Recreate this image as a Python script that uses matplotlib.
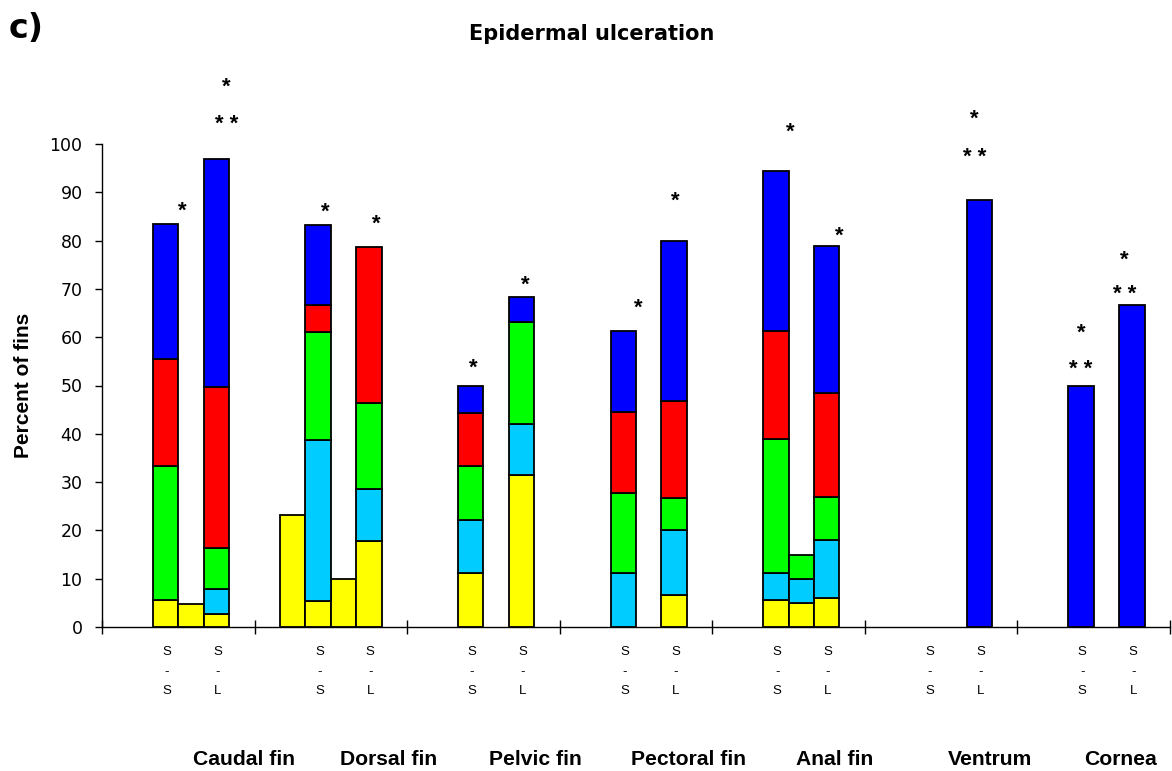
import numpy as np
import matplotlib
matplotlib.use("Agg")
import matplotlib.pyplot as plt

plt.rcParams['font.family'] = ['Liberation Sans', 'DejaVu Sans']

# ---- data ----
groups = ["Caudal fin", "Dorsal fin", "Pelvic fin", "Pectoral fin", "Anal fin", "Ventrum", "Cornea"]
# each bar: group index and slot within group (6 slots per group)
bar_group = [0, 0, 0, 1, 1, 1, 1, 2, 2, 3, 3, 4, 4, 4, 5, 6, 6]
bar_slot  = [2, 3, 4, 1, 2, 3, 4, 2, 4, 2, 4, 2, 3, 4, 4, 2, 4]
# stacked series (percent of fins)
yellow = [5.56, 4.8, 2.6, 23.2, 5.4, 10.0, 17.8, 11.1, 31.5, 0.0, 6.7, 5.6, 4.9, 6.0, 0, 0, 0]
cyan   = [0.0, 0, 5.3, 0, 33.4, 0, 10.7, 11.1, 10.5, 11.1, 13.3, 5.6, 5.0, 12.0, 0, 0, 0]
green  = [27.78, 0, 8.4, 0, 22.2, 0, 17.8, 11.1, 21.1, 16.7, 6.7, 27.8, 5.0, 9.0, 0, 0, 0]
red    = [22.22, 0, 33.4, 0, 5.6, 0, 32.3, 11.1, 0.0, 16.7, 20.0, 22.2, 0, 21.5, 0, 0, 0]
blue   = [27.78, 0, 47.2, 0, 16.7, 0, 0.0, 5.6, 5.3, 16.7, 33.3, 33.3, 0, 30.3, 88.4, 50.0, 66.7]
series_colors = ["#FFFF00", "#00CCFF", "#00FF00", "#FF0000", "#0000FF"]

# significance markers: (group, slot, text, y)
sig_group = [0, 0, 0, 1, 1, 2, 2, 3, 3, 4, 4, 5, 5, 6, 6, 6, 6]
sig_slot  = [2, 4, 4, 2, 4, 2, 4, 2, 4, 2, 4, 4, 4, 2, 2, 4, 4]
sig_dx    = [0.65, 0.4, 0.4, 0.3, 0.3, 0.1, 0.15, 0.6, 0.05, 0.55, 0.5, -0.2, -0.2, 0.0, 0.0, -0.3, -0.3]
sig_text  = ["*", "*", "* *", "*", "*", "*", "*", "*", "*", "*", "*", "*", "* *", "*", "* *", "*", "* *"]
sig_y     = [86.1, 111.7, 104.0, 85.8, 83.4, 53.6, 70.7, 66.0, 88.1, 102.5, 80.9, 105.1, 97.3, 60.8, 53.4, 76.0, 68.8]

# group label offsets (slot units from group start)
group_label_dx = [5.58, 5.25, 5.03, 5.08, 4.82, 4.92, 4.07]

SLOTS = 6

fig = plt.figure(figsize=(11.72, 7.71), dpi=100)
ax = fig.add_axes([102/1172, (771-627)/771, (1170-102)/1172, (627-144)/771])

xpos = np.array([g*SLOTS + s + 0.5 for g, s in zip(bar_group, bar_slot)])
bottom = np.zeros(len(xpos))
for vals, col in zip([yellow, cyan, green, red, blue], series_colors):
    vals = np.array(vals, dtype=float)
    m = vals > 0
    ax.bar(xpos[m], vals[m], width=1.0, bottom=bottom[m], color=col,
           edgecolor='black', linewidth=1.3, zorder=3)
    bottom += vals

for g, s, dx, t, y in zip(sig_group, sig_slot, sig_dx, sig_text, sig_y):
    ax.text(g*SLOTS + s + 0.5 + dx, y, t, ha='center', va='center',
            fontsize=16, fontweight='bold', clip_on=False)

ax.set_xlim(0, SLOTS*len(groups))
ax.set_ylim(0, 100)
ax.set_yticks(np.arange(0, 101, 10))
ax.tick_params(axis='y', direction='out', length=5, width=1, pad=9)
for lab in ax.get_yticklabels():
    lab.set_family('DejaVu Sans')
    lab.set_fontsize(12.5)
ax.set_xticks(np.arange(0, SLOTS*len(groups)+1, SLOTS))
ax.set_xticklabels([])
ax.tick_params(axis='x', direction='inout', length=10, width=1)
for sp in ['top', 'right']:
    ax.spines[sp].set_visible(False)
ax.spines['left'].set_linewidth(1)
ax.spines['bottom'].set_linewidth(1)

# S-S / S-L labels
for g in range(len(groups)):
    for s, second in [(2, "S"), (4, "L")]:
        x = g*SLOTS + s + 0.55
        for yy, t in [(-5.2, "S"), (-9.3, "-"), (-13.2, second)]:
            ax.text(x, yy, t, ha='center', va='center', fontsize=9.5, clip_on=False)
    ax.text(g*SLOTS + group_label_dx[g], -27.4, groups[g], ha='center', va='center',
            fontsize=15.2, fontweight='bold', clip_on=False)

ax.set_ylabel("Percent of fins", fontsize=15, fontweight='bold', labelpad=12)
fig.text(592/1172, 1 - 34/771, "Epidermal ulceration", ha='center', va='center',
         fontsize=15, fontweight='bold', family='DejaVu Sans')
fig.text(9/1172, 1 - 29/771, "c)", ha='left', va='center', fontsize=24,
         fontweight='bold', family='DejaVu Sans')

fig.savefig("out.png", dpi=100)
